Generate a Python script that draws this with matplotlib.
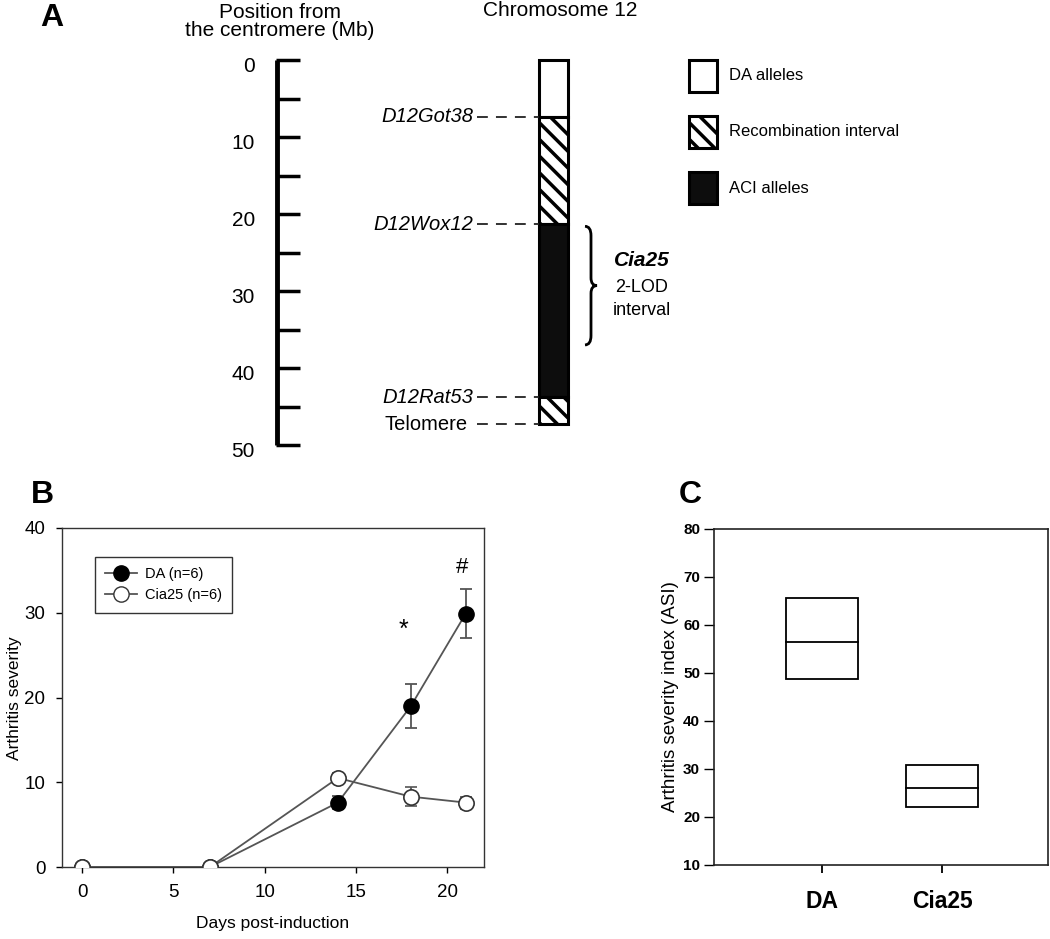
import matplotlib
matplotlib.use("Agg")
import matplotlib.pyplot as plt
from matplotlib.patches import Rectangle, PathPatch
from matplotlib.path import Path
from matplotlib.lines import Line2D

plt.rcParams['font.family'] = ['Liberation Sans', 'DejaVu Sans']
plt.rcParams['hatch.linewidth'] = 2.5

# ---------------- data ----------------
# Panel A
ruler_ticks = list(range(0, 51, 5))
ruler_labels = [0, 10, 20, 30, 40, 50]
marker_names = ["D12Got38", "D12Wox12", "D12Rat53", "Telomere"]
marker_pos = [7.4, 21.3, 43.8, 47.3]
segment_start = [0.0, 7.4, 21.3, 43.8]
segment_end = [7.4, 21.3, 43.8, 47.3]
segment_type = ["DA", "REC", "ACI", "REC"]
qtl_start, qtl_end = 21.6, 37.0
legend_labels = ["DA alleles", "Recombination interval", "ACI alleles"]
legend_types = ["DA", "REC", "ACI"]

# Panel B
days = [0, 7, 14, 18, 21]
da_mean = [0, 0, 7.6, 19.0, 29.9]
da_err = [0, 0, 0.8, 2.6, 2.9]
cia_mean = [0, 0, 10.5, 8.3, 7.6]
cia_err = [0, 0, 0.6, 1.1, 0.7]
sig_marks = ["*", "#"]
sig_x = [17.6, 20.8]
sig_y = [28.0, 35.3]

# Panel C
groups = ["DA", "Cia25"]
q1 = [48.7, 22.1]
med = [56.4, 26.0]
q3 = [65.7, 30.8]

W, H = 1050, 939
fig = plt.figure(figsize=(W / 100, H / 100), dpi=100)

def frac(left, top, right, bottom):
    return [left / W, 1 - bottom / H, (right - left) / W, (bottom - top) / H]

# ---------------- Panel A ----------------
axA = fig.add_axes([0, 1 - 470 / H, 1, 470 / H])
axA.set_axis_off()
y0px, scale = 60.0, 7.7
axA.set_xlim(0, W)
axA.set_ylim((470 - y0px) / scale, -y0px / scale)

ruler_x = 277
axA.plot([ruler_x, ruler_x], [ruler_ticks[0], ruler_ticks[-1]], color='black', lw=3.5,
         solid_capstyle='butt')
for t in ruler_ticks:
    axA.plot([ruler_x - 1.5, ruler_x + 23], [t, t], color='black', lw=2.5, solid_capstyle='butt')
for t in ruler_labels:
    axA.text(255, t + 0.9, str(t), ha='right', va='center', fontsize=15)

axA.text(280, -5.0, "Position from\nthe centromere (Mb)", ha='center', va='center',
         fontsize=15, linespacing=0.9)
axA.text(560, -6.4, "Chromosome 12", ha='center', va='center', fontsize=15)
axA.text(40, -5.5, "A", ha='left', va='center', fontsize=23, fontweight='bold')

chr_l, chr_r = 539, 568

def draw_block(ax, x0, x1, s, e, kind):
    if kind == "DA":
        ax.add_patch(Rectangle((x0, s), x1 - x0, e - s, facecolor='white', edgecolor='black', lw=2.2))
    elif kind == "ACI":
        ax.add_patch(Rectangle((x0, s), x1 - x0, e - s, facecolor='#0d0d0d', edgecolor='black', lw=2.2))
    else:
        ax.add_patch(Rectangle((x0, s), x1 - x0, e - s, facecolor='white', edgecolor='black', lw=2.2,
                               hatch='\\\\'))

for s, e, k in zip(segment_start, segment_end, segment_type):
    draw_block(axA, chr_l, chr_r, s, e, k)

for name, p in zip(marker_names, marker_pos):
    style = 'normal' if name == "Telomere" else 'italic'
    xr = 468 if name == "Telomere" else 473
    axA.text(xr, p, name, ha='right', va='center', fontsize=14.5, style=style)
    axA.plot([477, chr_l], [p, p], color='#222222', lw=1.3, dashes=(6, 4.5))

# brace
bx0, bx1, bx2 = 585, 591, 597
mid = (qtl_start + qtl_end) / 2
verts = [(bx0, qtl_start), (bx1, qtl_start), (bx1, qtl_start + 1.2),
         (bx1, mid - 1.0), (bx1, mid), (bx2, mid),
         (bx1, mid), (bx1, mid + 1.0),
         (bx1, qtl_end - 1.2), (bx1, qtl_end), (bx0, qtl_end)]
codes = [Path.MOVETO, Path.CURVE3, Path.CURVE3,
         Path.LINETO, Path.CURVE3, Path.CURVE3,
         Path.CURVE3, Path.CURVE3,
         Path.LINETO, Path.CURVE3, Path.CURVE3]
axA.add_patch(PathPatch(Path(verts, codes), facecolor='none', edgecolor='black', lw=2.0))
axA.text(642, mid - 3.2, "Cia25", ha='center', va='center', fontsize=15, fontweight='bold', style='italic')
axA.text(642, mid + 0.2, "2-LOD", ha='center', va='center', fontsize=13)
axA.text(642, mid + 3.2, "interval", ha='center', va='center', fontsize=13)

# legend boxes
lg_x0, lg_x1 = 689, 717
lg_top0, lg_h, lg_step = 0.0, 4.1, 7.3
for i, (lab, k) in enumerate(zip(legend_labels, legend_types)):
    top = lg_top0 + i * lg_step
    draw_block(axA, lg_x0, lg_x1, top, top + lg_h, k)
    axA.text(729, top + lg_h / 2, lab, ha='left', va='center', fontsize=12)

# ---------------- Panel B ----------------
axB = fig.add_axes(frac(62, 528, 484, 867))
line_col = '#555555'
axB.errorbar(days, da_mean, yerr=da_err, color=line_col, lw=1.3, marker='o', ms=11,
             mfc='black', mec='black', ecolor=line_col, elinewidth=1.3, capsize=4.5, capthick=1.3,
             label="DA (n=6)", zorder=3)
axB.errorbar(days, cia_mean, yerr=cia_err, color=line_col, lw=1.3, marker='o', ms=11,
             mfc='white', mec='#333333', mew=1.2, ecolor=line_col, elinewidth=1.3, capsize=4.5,
             capthick=1.3, label="Cia25 (n=6)", zorder=4)
for m, x, y in zip(sig_marks, sig_x, sig_y):
    axB.text(x, y, m, ha='center', va='center', fontsize=18 if m == "*" else 16)
axB.set_xlim(-1.1, 22.0)
axB.set_ylim(0, 40)
axB.set_xticks([0, 5, 10, 15, 20])
axB.set_yticks([0, 10, 20, 30, 40])
axB.tick_params(labelsize=13.5, direction='out', length=4, width=1, pad=8)
axB.set_xlabel("Days post-induction", fontsize=12.5, labelpad=11)
for sp in axB.spines.values():
    sp.set_color('#333333')
    sp.set_linewidth(1.0)
fig.text(15 / W, 1 - 698 / H, "Arthritis severity", rotation=90, ha='center', va='center',
         fontsize=12.5)
handles = [Line2D([], [], color=line_col, lw=1.3, marker='o', ms=11, mfc='black', mec='black'),
           Line2D([], [], color=line_col, lw=1.3, marker='o', ms=11, mfc='white', mec='#333333')]
leg = axB.legend(handles, ["DA (n=6)", "Cia25 (n=6)"], loc='upper left',
                 bbox_to_anchor=(95 / W, 1 - 557 / H), bbox_transform=fig.transFigure,
                 borderaxespad=0, fontsize=10.5, fancybox=False, framealpha=1,
                 handlelength=2.2, handletextpad=0.5, labelspacing=0.5, borderpad=0.7)
leg.get_frame().set_edgecolor('#333333')
leg.get_frame().set_linewidth(1.0)
fig.text(42 / W, 1 - 495 / H, "B", ha='center', va='center', fontsize=23, fontweight='bold')

# ---------------- Panel C ----------------
axC = fig.add_axes(frac(714, 529, 1048, 865))
pos = [1, 2]
bw = 0.6
for p, a, m, b in zip(pos, q1, med, q3):
    axC.add_patch(Rectangle((p - bw / 2, a), bw, b - a, facecolor='none', edgecolor='black', lw=1.3))
    axC.plot([p - bw / 2, p + bw / 2], [m, m], color='black', lw=1.3)
axC.set_xlim(0.1, 2.883)
axC.set_ylim(10, 80)
axC.set_xticks(pos)
axC.set_xticklabels(groups, fontsize=16.5, fontweight='bold')
axC.set_yticks(range(10, 81, 10))
axC.tick_params(axis='y', labelsize=11, direction='out', length=7, width=1, pad=3)
axC.tick_params(axis='x', direction='out', length=6, width=1.3, pad=12)
for lab in axC.get_yticklabels():
    lab.set_fontweight('bold')
axC.set_ylabel("Arthritis severity index (ASI)", fontsize=13.5, labelpad=3)
for sp in axC.spines.values():
    sp.set_color('#222222')
    sp.set_linewidth(1.2)
fig.text(690 / W, 1 - 495 / H, "C", ha='center', va='center', fontsize=23, fontweight='bold')

fig.savefig("out.png", dpi=100)
